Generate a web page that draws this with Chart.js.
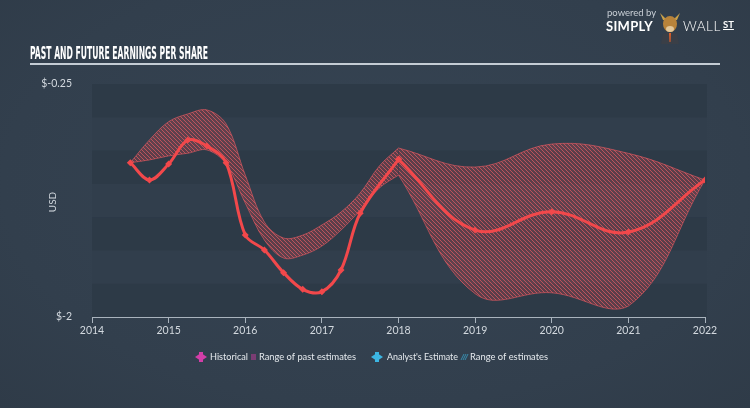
<!DOCTYPE html>
<html><head><meta charset="utf-8">
<script src="https://cdn.jsdelivr.net/npm/chart.js@4.4.0/dist/chart.umd.min.js"></script>
<style>
html,body{margin:0;padding:0;background:#34414f;}
#wrap{position:relative;width:750px;height:408px;overflow:hidden;background:radial-gradient(ellipse at 50% 45%,#364453 0%,#323f4d 70%,#2f3b48 100%);}
#c{position:absolute;left:0;top:0;}
#title{position:absolute;left:30px;top:43px;font-family:"Liberation Sans Narrow","DejaVu Sans Condensed",sans-serif;font-weight:bold;font-size:17px;color:#fff;transform-origin:0 0;white-space:nowrap;letter-spacing:0px;}
#rule{position:absolute;left:30px;top:63px;width:690px;height:2px;background:#c4ccd4;}
.lg{position:absolute;white-space:nowrap;font-family:Lato,"Open Sans",sans-serif;}
#pw{left:607px;top:7px;font-size:9.5px;color:#c9cfd6;}
#simply{left:606px;top:18px;font-size:13px;font-weight:bold;color:#fff;letter-spacing:0.3px;}
#wall{left:683px;top:18px;font-size:13.5px;font-weight:300;color:#fff;letter-spacing:0.5px;}
#st{left:723px;top:19px;font-size:9.5px;font-weight:bold;color:#fff;text-decoration:underline;}
#bull{position:absolute;left:659px;top:10px;width:22px;height:34px;}
</style></head>
<body><div id="wrap">
<canvas id="c" width="750" height="408"></canvas>
<div id="title">PAST AND FUTURE EARNINGS PER SHARE</div>
<div id="rule"></div>
<div class="lg" id="pw">powered by</div>
<div class="lg" id="simply">SIMPLY</div>
<svg id="bull" viewBox="0 0 22 34"><path d="M1 3 L6 8 L16 8 L21 3 L18 10 L4 10 Z" fill="#caa24a"/><ellipse cx="11" cy="14" rx="7" ry="8" fill="#b8833a"/><ellipse cx="11" cy="19" rx="4" ry="3" fill="#e2c79a"/><path d="M2 34 L4 24 L11 22 L18 24 L20 34 Z" fill="#3a3f47"/><path d="M10 23 L12 23 L11.5 32 L10.5 32 Z" fill="#e0602a"/></svg>
<div class="lg" id="wall">WALL</div>
<div class="lg" id="st">ST</div>
</div>
<script>
// ---- data ----
const histYears = [2014.5, 2014.75, 2015.0, 2015.25, 2015.5, 2015.75, 2016.0, 2016.25, 2016.5, 2016.75, 2017.0, 2017.25, 2017.5, 2018.0];
const histEps   = [-0.841, -0.971, -0.851, -0.671, -0.716, -0.841, -1.384, -1.497, -1.667, -1.792, -1.810, -1.647, -1.221, -0.816];
const pastRangeYears = [2014.5, 2014.75, 2015.0, 2015.25, 2015.5, 2015.75, 2016.0, 2016.25, 2016.5, 2016.75, 2017.0, 2017.25, 2017.5, 2017.75, 2018.0];
const pastHigh = [-0.841, -0.67, -0.533, -0.475, -0.445, -0.55, -0.934, -1.287, -1.407, -1.385, -1.309, -1.212, -1.069, -0.866, -0.731];
const pastLow  = [-0.841, -0.82, -0.79, -0.77, -0.745, -0.85, -1.144, -1.422, -1.557, -1.535, -1.467, -1.347, -1.197, -1.031, -0.934];
const futureYears = [2018, 2019, 2020, 2021, 2022];
const futureEps   = [-0.816, -1.347, -1.209, -1.362, -0.971];
const futureHigh  = [-0.731, -0.874, -0.701, -0.771, -0.971];
const futureLow   = [-0.934, -1.825, -1.818, -1.918, -0.971];
const xTickYears = [2014, 2015, 2016, 2017, 2018, 2019, 2020, 2021, 2022];
const yTickValues = [-2, -0.25];

// title condense to fit
(function(){const t=document.getElementById('title');const w=t.getBoundingClientRect().width;t.style.transform='scaleX('+(178/w)+')';})();

function pts(xs, ys){ return xs.map((x,i)=>({x:x, y:ys[i]})); }
function hatch(){
  const c=document.createElement('canvas'); c.width=4; c.height=4;
  const g=c.getContext('2d');
  g.fillStyle='rgba(190,70,82,0.32)'; g.fillRect(0,0,4,4);
  g.strokeStyle='rgba(228,92,100,0.7)'; g.lineWidth=1;
  g.beginPath(); g.moveTo(0,0); g.lineTo(4,4); g.moveTo(-1,3); g.lineTo(1,5); g.moveTo(3,-1); g.lineTo(5,1); g.stroke();
  return g.createPattern(c,'repeat');
}
const RED='#f2484b';
const pat=hatch();
const edge='rgba(230,90,98,0.65)';

const bgPlugin={id:'bg',beforeDraw(ch){
  const a=ch.chartArea, g=ch.ctx; const n=7, h=(a.bottom-a.top)/n;
  for(let i=0;i<n;i++){ g.fillStyle = i%2? '#313e4c' : '#2d3a47'; g.fillRect(a.left, a.top+i*h, a.right+2-a.left, h+0.5); }
}};
const extraPlugin={id:'extra',afterDraw(ch){
  const g=ch.ctx;
  g.save();
  g.fillStyle='#d3d9df'; g.font='10px Lato, "Open Sans", sans-serif'; g.textAlign='center'; g.textBaseline='middle';
  g.translate(53,202); g.rotate(-Math.PI/2); g.fillText('USD',0,0);
  g.restore();
  g.save();
  const y=357; g.font='9.5px Lato, "Open Sans", sans-serif'; g.textBaseline='middle'; g.textAlign='left';
  function icon(cx,col){ g.fillStyle=col; g.beginPath(); g.moveTo(cx-6,y); g.lineTo(cx,y-4); g.lineTo(cx+6,y); g.lineTo(cx,y+4); g.closePath(); g.fill(); g.fillRect(cx-2,y-5,4,10); }
  icon(201,'#d23ea8');
  g.fillStyle='#e6eaee'; g.fillText('Historical',210,y,38);
  g.fillStyle='rgba(140,60,125,0.8)'; g.fillRect(251,y-3,5,6);
  g.fillStyle='#e6eaee'; g.fillText('Range of past estimates',259,y,97);
  icon(377,'#3cb6e3');
  g.fillStyle='#e6eaee'; g.fillText("Analyst's Estimate",387,y,71);
  g.strokeStyle='rgba(60,182,227,0.8)'; g.lineWidth=0.8; g.beginPath();
  for(let k=0;k<3;k++){ g.moveTo(461+k*2,y+3); g.lineTo(464+k*2,y-3);} g.stroke();
  g.fillStyle='#e6eaee'; g.fillText('Range of estimates',470,y,78);
  g.restore();
}};

new Chart(document.getElementById('c'),{
  type:'line',
  data:{datasets:[
    {data:pts(histYears,histEps),borderColor:RED,backgroundColor:RED,borderWidth:3,tension:0.35,pointStyle:'rectRot',pointRadius:3.5,pointBorderWidth:0,fill:false,order:1},
    {data:pts(futureYears,futureEps),borderColor:RED,backgroundColor:RED,borderWidth:3,tension:0.4,pointStyle:'rectRot',pointRadius:3.5,pointBorderWidth:0,fill:false,order:1},
    {data:pts(pastRangeYears,pastHigh),borderColor:edge,borderWidth:1,backgroundColor:pat,tension:0.35,pointRadius:0,fill:'+1',order:5},
    {data:pts(pastRangeYears,pastLow),borderColor:edge,borderWidth:1,tension:0.35,pointRadius:0,fill:false,order:5},
    {data:pts(futureYears,futureHigh),borderColor:edge,borderWidth:1,backgroundColor:pat,tension:0.4,pointRadius:0,fill:'+1',order:5},
    {data:pts(futureYears,futureLow),borderColor:edge,borderWidth:1,tension:0.4,pointRadius:0,fill:false,order:5}
  ]},
  options:{
    responsive:false,animation:false,devicePixelRatio:1,
    layout:{padding:{top:84,right:45,left:0,bottom:0}},
    plugins:{legend:{display:false},tooltip:{enabled:false},title:{display:false}},
    scales:{
      x:{type:'linear',min:2014,max:2022,
        afterBuildTicks(s){s.ticks=xTickYears.map(v=>({value:v}));},
        afterFit(s){s.height=408-317;},
        border:{display:true,color:'#a9b3bd',width:1},
        grid:{drawOnChartArea:false,drawTicks:true,tickLength:6,color:'#a9b3bd'},
        ticks:{color:'#d3d9df',font:{family:'Lato, "Open Sans", sans-serif',size:10.5},padding:1,maxRotation:0,callback:v=>String(v)}},
      y:{type:'linear',min:-2,max:-0.25,
        afterBuildTicks(s){s.ticks=yTickValues.map(v=>({value:v}));},
        afterFit(s){s.width=92;},
        border:{display:false},
        grid:{display:false},
        ticks:{color:'#d3d9df',font:{family:'Lato, "Open Sans", sans-serif',size:10.5},padding:12,callback:v=>'$'+v}}
    }
  },
  plugins:[bgPlugin,extraPlugin]
});
</script>
</body></html>
